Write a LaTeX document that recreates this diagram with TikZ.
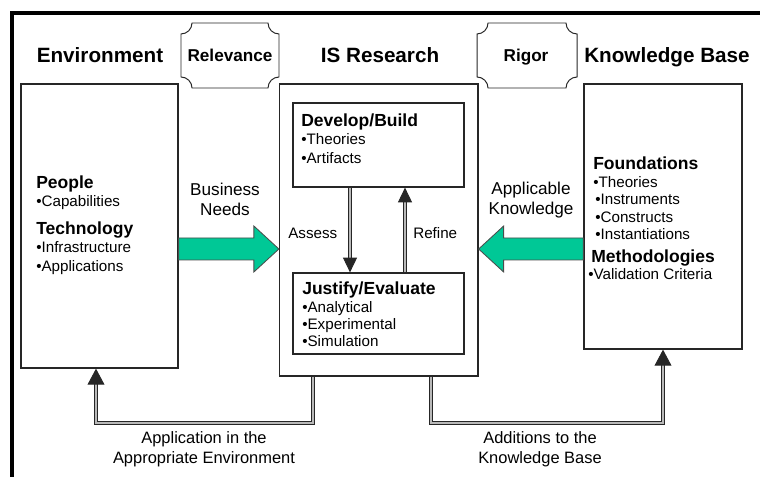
\documentclass[tikz,border=0pt]{standalone}
\usepackage{fontspec}
\setmainfont{Liberation Sans}
\usetikzlibrary{positioning, calc, fit, arrows.meta}
\definecolor{mint}{RGB}{0,200,150}

\begin{document}
\begin{tikzpicture}[
    x=0.025cm, y=-0.025cm,
    bigbox/.style={draw=black!85, line width=0.9pt, inner sep=0pt},
    plaque/.style={draw=black!85, line width=0.7pt},
    outerframe/.style={draw=black, line width=2.8pt},
    heading/.style={font=\fontsize{14.7}{17}\selectfont\bfseries, anchor=base, inner sep=0pt},
    plaquetxt/.style={font=\fontsize{12.2}{14}\selectfont\bfseries, anchor=base, inner sep=0pt},
    subhead/.style={font=\fontsize{12.45}{15}\selectfont\bfseries, anchor=base west, inner sep=0pt},
    bullet/.style={font=\fontsize{10.8}{13}\selectfont, anchor=base west, inner sep=0pt},
    flowlbl/.style={font=\fontsize{12.2}{14.9}\selectfont, align=center, anchor=base, inner sep=0pt},
    feedlbl/.style={font=\fontsize{11.7}{14.2}\selectfont, align=center, anchor=base, inner sep=0pt},
    steplbl/.style={font=\fontsize{10.8}{13}\selectfont, anchor=base west, inner sep=0pt},
    link/.style={draw=black!85, double=gray!55, double distance=1.6pt, line width=0.6pt},
    bigarrow/.style={draw=black!70, line width=0.6pt, fill=mint}
]

\useasboundingbox (0,0) rectangle (760,477);

% Outer frame (cut off at the right and bottom)
\draw[outerframe] (12,477) -- (12,13) -- (760,13);

% Headings
\node[heading] (envhead) at (100,63) {Environment};
\node[heading] (ishead) at (380,63) {IS Research};
\node[heading] (kbhead) at (667,63) {Knowledge Base};

% Plaques
\draw[plaque] (192,23) -- (268,23) arc[start angle=180, end angle=90, radius=11] -- (279,77) arc[start angle=270, end angle=180, radius=11] -- (192,88) arc[start angle=0, end angle=-90, radius=11] -- (181,34) arc[start angle=90, end angle=0, radius=11] -- cycle;
\draw[plaque] (488,23) -- (566,23) arc[start angle=180, end angle=90, radius=11] -- (577,77) arc[start angle=270, end angle=180, radius=11] -- (488,88) arc[start angle=0, end angle=-90, radius=11] -- (477,34) arc[start angle=90, end angle=0, radius=11] -- cycle;
\node[plaquetxt] (relevance) at (230,62) {Relevance};
\node[plaquetxt] (rigor) at (526,62) {Rigor};

% Main boxes
\node[bigbox, fit={(21,84) (178,368)}] (env) {};
\node[bigbox, fit={(279.5,84) (478,376)}] (is) {};
\node[bigbox, fit={(584,84) (742,349)}] (kb) {};
\node[bigbox, fit={(293,103) (464,187)}] (build) {};
\node[bigbox, fit={(293,273) (464,354)}] (eval) {};

% Environment
\node[subhead] (people) at (36,189) {People};
\node[bullet] (capab) at (36,207) {•Capabilities};
\node[subhead] (techno) at (36,235) {Technology};
\node[bullet] (infra) at (36,253) {•Infrastructure};
\node[bullet] (applic) at (36,272) {•Applications};

% IS Research
\node[subhead] (develop) at (301,127) {Develop/Build};
\node[bullet] (theo1) at (301,145) {•Theories};
\node[bullet] (artif) at (301,164) {•Artifacts};
\node[subhead] (justify) at (302,295) {Justify/Evaluate};
\node[bullet] (analyt) at (302,313) {•Analytical};
\node[bullet] (experi) at (302,330) {•Experimental};
\node[bullet] (simul) at (302,346) {•Simulation};

% Knowledge Base
\node[subhead] (found) at (593,170) {Foundations};
\node[bullet] (theo2) at (593,188) {•Theories};
\node[bullet] (instr) at (595,205) {•Instruments};
\node[bullet] (constr) at (595,223) {•Constructs};
\node[bullet] (instan) at (595,240) {•Instantiations};
\node[subhead] (method) at (591,263) {Methodologies};
\node[bullet] (valid) at (588,280) {•Validation Criteria};

% Big green arrows
\coordinate (needstip) at (is.west |- 0,249);
\draw[bigarrow] (env.east |- 0,238) -- ($(needstip)+(-25,-11)$) -- ($(needstip)+(-25,-23)$) -- (needstip) -- ($(needstip)+(-25,23)$) -- ($(needstip)+(-25,11)$) -- (env.east |- 0,260) -- cycle;
\coordinate (knowtip) at (is.east |- 0,249);
\draw[bigarrow] (kb.west |- 0,238) -- ($(knowtip)+(25,-11)$) -- ($(knowtip)+(25,-23)$) -- (knowtip) -- ($(knowtip)+(25,23)$) -- ($(knowtip)+(25,11)$) -- (kb.west |- 0,260) -- cycle;
\node[flowlbl] (needs) at (225,216) {Business\\Needs};
\node[flowlbl] (knowledge) at (531,215) {Applicable\\Knowledge};

% Assess / Refine
\draw[link, -{Triangle[width=10pt, length=10.5pt]}] ($(build.south)+(-28.5,0)$) -- ($(eval.north)+(-28.5,0)$);
\draw[link, -{Triangle[width=10pt, length=10.5pt]}] ($(eval.north)+(26.5,0)$) -- ($(build.south)+(26.5,0)$);
\node[steplbl] (assess) at (288,239) {Assess};
\node[steplbl] (refine) at (413,239) {Refine};

% Feedback loops
\draw[link, -{Triangle[width=12pt, length=11.4pt]}] ($(is.south)+(-66,0)$) -- ++(0,46) -| ($(env.south)+(-3.5,0)$);
\draw[link, -{Triangle[width=12pt, length=11.4pt]}] ($(is.south)+(52,0)$) -- ++(0,46) -| (kb.south);
\node[feedlbl] (application) at (204,463) {Application in the\\Appropriate Environment};
\node[feedlbl] (additions) at (540,463) {Additions to the\\Knowledge Base};

\end{tikzpicture}
\end{document}
